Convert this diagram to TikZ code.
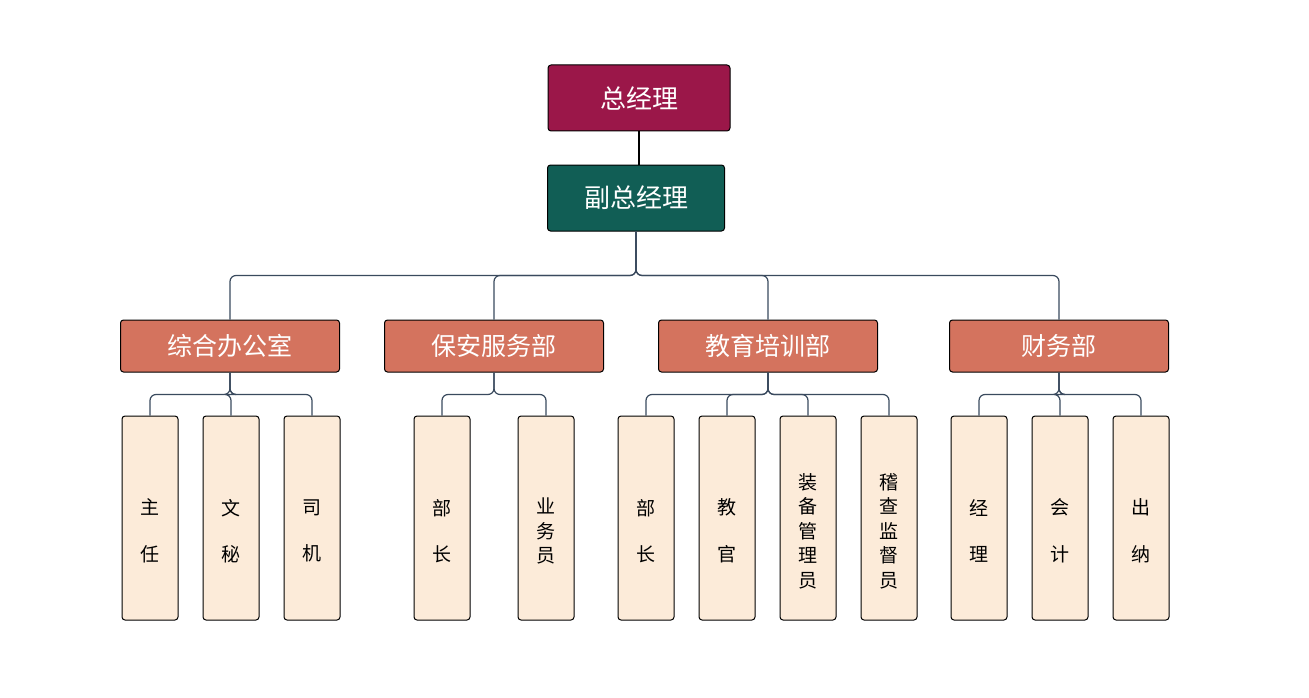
\documentclass[tikz,border=0pt]{standalone}
\usepackage{fontspec}
\newfontfamily\cjk{Noto Sans CJK SC}
\definecolor{topc}{HTML}{9B1749}
\definecolor{secc}{HTML}{115E55}
\definecolor{depc}{HTML}{D4735E}
\definecolor{leafc}{HTML}{FCEBD9}
\definecolor{linec}{HTML}{3A4A5E}
\begin{document}
\begin{tikzpicture}[x=1pt,y=-1pt,
  box/.style={draw=black,line width=1pt,rounded corners=3pt,inner sep=0pt,font=\cjk},
  topbox/.style={box,fill=topc,text=white,minimum width=182pt,minimum height=66pt,font=\cjk\fontsize{26}{30}\selectfont},
  secbox/.style={box,fill=secc,text=white,minimum width=177pt,minimum height=66pt,font=\cjk\fontsize{26}{30}\selectfont},
  depbox/.style={box,fill=depc,text=white,minimum width=219pt,minimum height=52pt,font=\cjk\fontsize{25}{30}\selectfont},
  leafbox/.style={box,fill=leafc,minimum width=56pt,minimum height=204pt},
  leaftext/.style={inner sep=0pt,align=center,text=black,font=\cjk\fontsize{19}{24.5}\selectfont},
  conn/.style={draw=linec,line width=1.2pt,rounded corners=6pt}]
\useasboundingbox (0,0) rectangle (1309,698);
\fill[white] (0,0) rectangle (1309,698);
\node[topbox] (gm) at (639,98) {总经理};
\node[secbox] (vgm) at (636,198) {副总经理};
\draw[black,line width=1.2pt] (gm.south) -- (gm.south|-vgm.north);
\node[depbox] (d1) at (230,346) {综合办公室};
\node[depbox] (d2) at (494,346) {保安服务部};
\node[depbox] (d3) at (768,346) {教育培训部};
\node[depbox] (d4) at (1059,346) {财务部};
\path (vgm.south) ++(0,44) coordinate (vb);
\foreach \d in {d1,d2,d3,d4}
  \draw[conn] (vgm.south) -- (vb) -| (\d.north);
\def\two#1#2{#1\\[22pt]#2}
\foreach \n/\x/\t in {l1/150/{\two{主}{任}},l2/231/{\two{文}{秘}},l3/312/{\two{司}{机}},
  l4/442/{\two{部}{长}},l5/546/{业\\务\\员},l6/646/{\two{部}{长}},l7/727/{\two{教}{官}},
  l8/808/{装\\备\\管\\理\\员},l9/889/{稽\\查\\监\\督\\员},l10/979/{\two{经}{理}},
  l11/1060/{\two{会}{计}},l12/1141/{\two{出}{纳}}}{
  \node[leafbox] (\n) at (\x,518) {};
  \node[leaftext] (\n t) at (\x,531) {\t};
}
\foreach \p/\ls in {d1/{l1,l2,l3},d2/{l4,l5},d3/{l6,l7,l8,l9},d4/{l10,l11,l12}}{
  \path (\p.south) ++(0,22) coordinate (pb);
  \foreach \l in \ls
    \draw[conn] (\p.south) -- (pb) -| (\l.north);
}
\end{tikzpicture}
\end{document}
